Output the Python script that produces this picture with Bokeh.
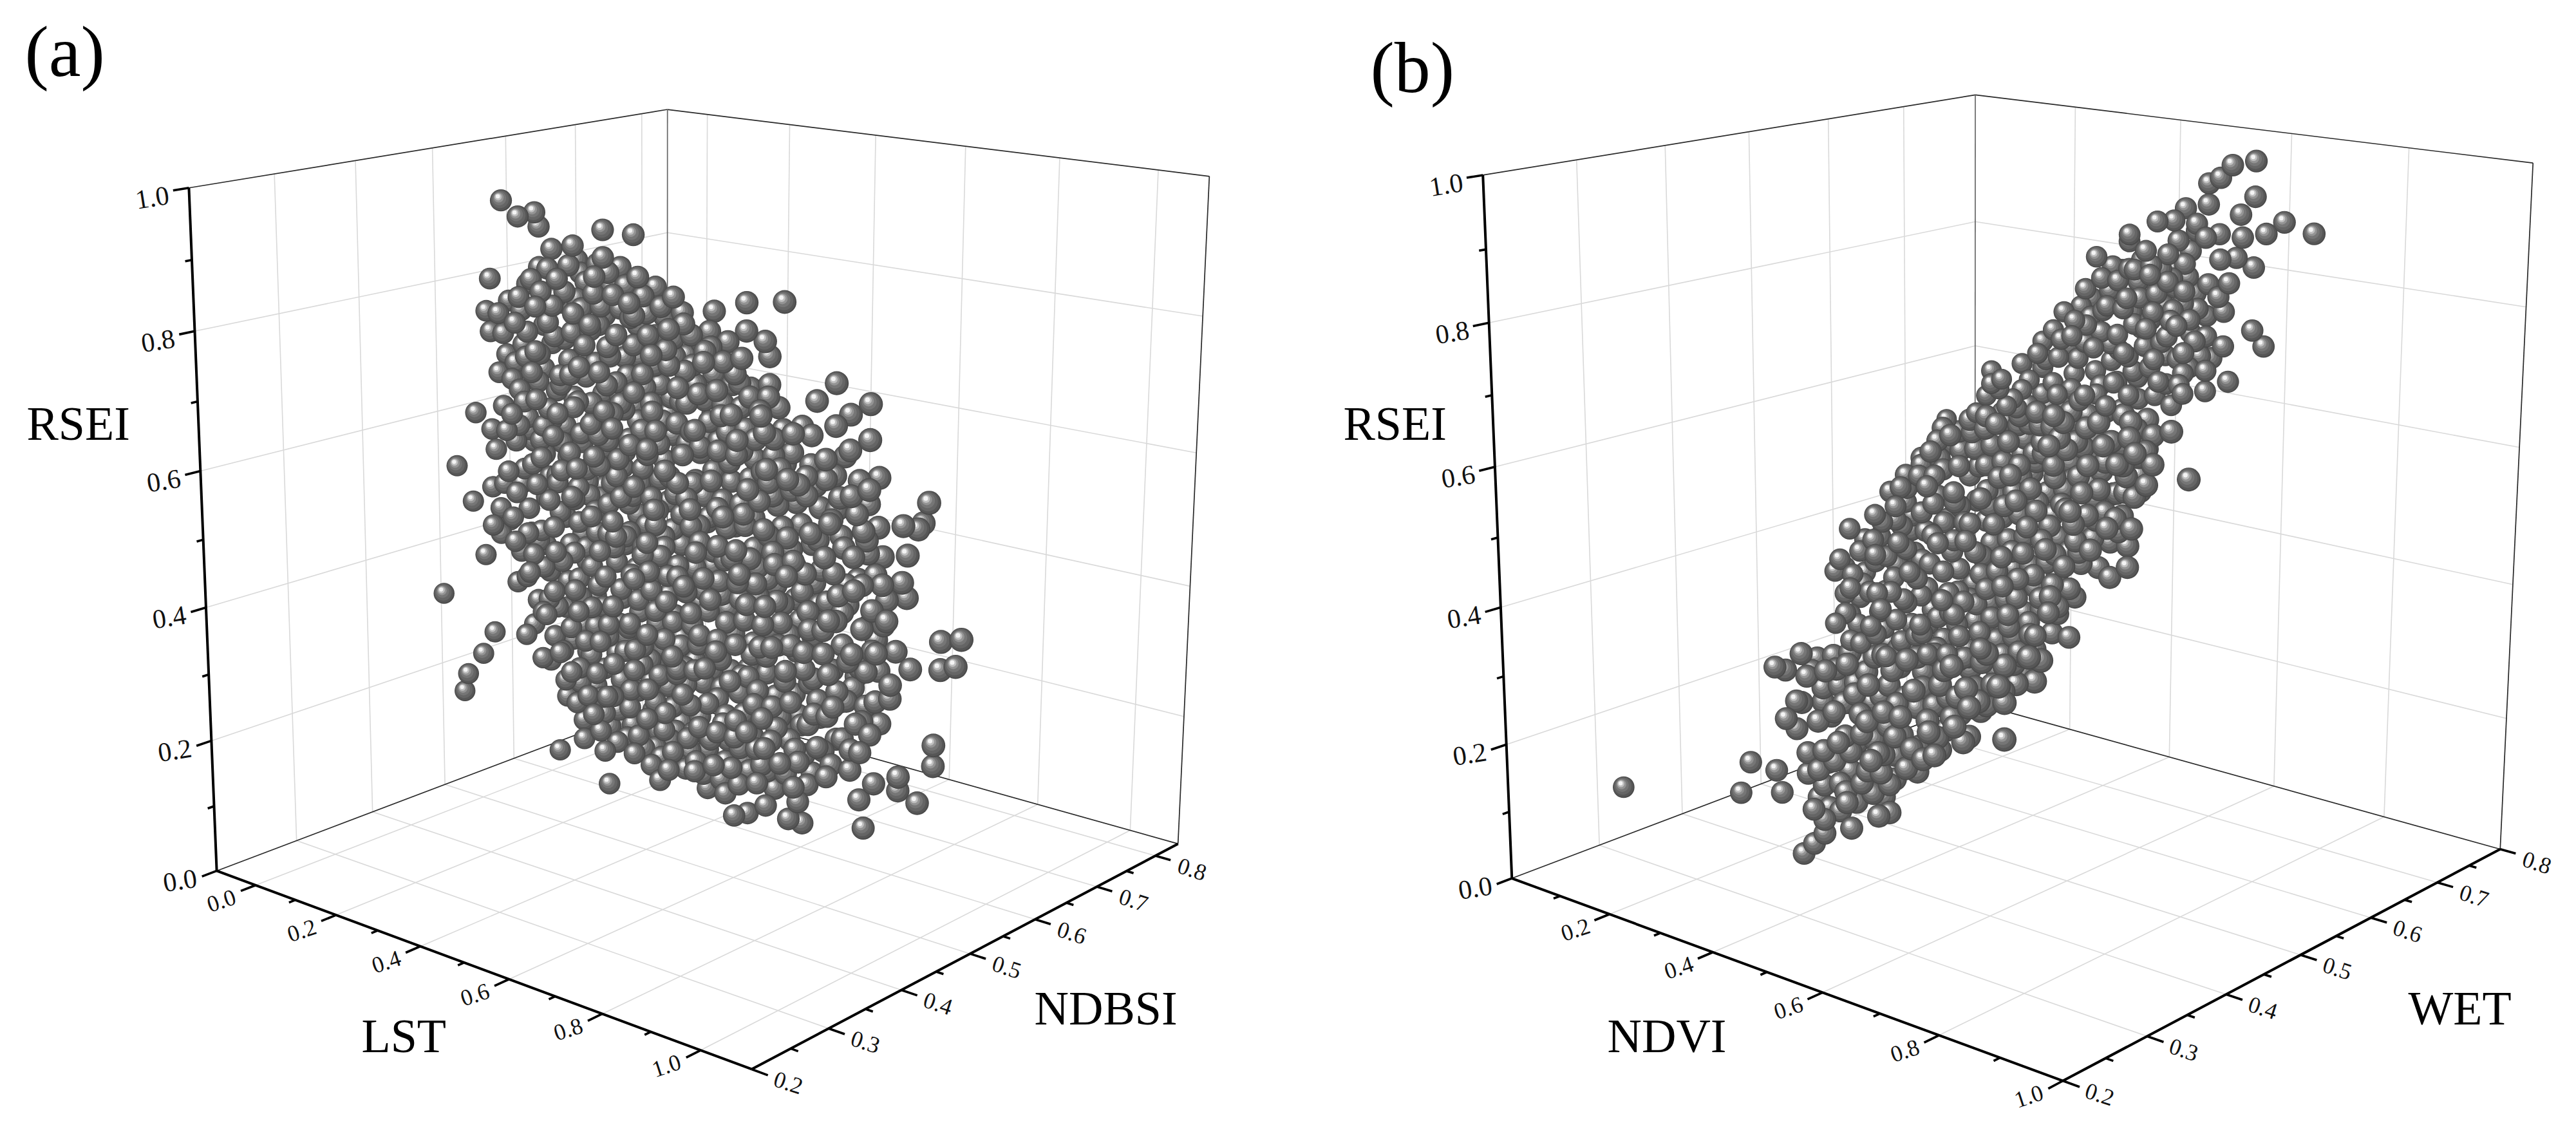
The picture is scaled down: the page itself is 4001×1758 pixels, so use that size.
import numpy as np
from bokeh.plotting import figure
from bokeh.models import ColumnDataSource
from bokeh.core.properties import value
from bokeh.embed import file_html
from bokeh.resources import INLINE

# ---------- data ----------
rsei_ticks = [0.0, 0.2, 0.4, 0.6, 0.8, 1.0]
rsei_labels = ["0.0", "0.2", "0.4", "0.6", "0.8", "1.0"]
lst_ticks = [0.0, 0.2, 0.4, 0.6, 0.8, 1.0]
lst_labels = ["0.0", "0.2", "0.4", "0.6", "0.8", "1.0"]
ndvi_ticks = [0.2, 0.4, 0.6, 0.8, 1.0]
ndvi_labels = ["0.2", "0.4", "0.6", "0.8", "1.0"]
side_ticks = [0.2, 0.3, 0.4, 0.5, 0.6, 0.7, 0.8]
side_labels = ["0.2", "0.3", "0.4", "0.5", "0.6", "0.7", "0.8"]

# (LST, RSEI) pairs; the depth (NDBSI) cannot be read from a single view, so one mid depth is used
a_edge = [(.03,.93),(.07,.91),(.11,.92),(.12,.90),(.15,.87),(.20,.88),(.27,.91),(.34,.91),(.12,.84),(.00,.81),
(-.01,.76),(.00,.73),(-.04,.60),(.00,.58),(-.09,.51),(-.05,.46),(.00,.49),(.00,.43),(-.02,.38),(.02,.46),
(-.13,.30),(.00,.26),(-.03,.22),(-.07,.18),(-.08,.15),(.08,.27),(.12,.24),(.16,.10),(.22,.13),(.27,.12),(.28,.07),
(.52,.82),(.59,.84),(.67,.85),(.59,.80),(.63,.79),(.64,.77),(.78,.75),(.74,.72),(.85,.73),(.81,.71),(.78,.69),
(.85,.68),(.81,.66),(.87,.63),(.85,.61),(.85,.59),(.97,.61),(.96,.58),(.92,.57),(.95,.57),(.93,.53),(.88,.52),
(1.04,.43),(1.00,.42),(1.03,.39),(1.00,.38),(.94,.37),(.90,.32),(.85,.30),(.88,.28),(.99,.27),(.99,.24),
(.92,.21),(.92,.19),(.87,.19),(.96,.18),(.84,.16),(.85,.12),(.84,.23),(.82,.20),(.77,.18),(.73,.16),(.71,.13),
(.69,.10),(.72,.10),(.60,.09),(.57,.08),(.64,.11),(.55,.11),(.51,.11),(.40,.10),(.48,.13),(.92,.49),(.93,.47),(.89,.43),(.87,.38)]
a_core_left = [(.02,.42),(.03,.50),(.01,.55),(.03,.62),(.02,.67),(.04,.70),(.02,.76),(.04,.52),
(.06,.35),(.07,.40),(.05,.45),(.06,.49),(.08,.53),(.06,.57),(.05,.61),(.07,.65),(.06,.69),(.08,.72),(.06,.75),(.07,.79),
(.10,.29),(.11,.33),(.09,.37),(.10,.40),(.12,.44),(.09,.47),(.11,.51),(.10,.54),(.12,.58),(.09,.61),(.11,.64),(.10,.68),(.12,.71),(.09,.74),(.11,.78),(.10,.82),
(.14,.24),(.15,.28),(.13,.31),(.15,.35),(.14,.38),(.13,.42),(.15,.45),(.14,.49),(.16,.52),(.13,.56),(.15,.59),(.14,.63),(.16,.66),(.13,.69),(.15,.73),(.14,.76),(.16,.80),(.14,.84),
(.18,.19),(.19,.23),(.17,.26),(.19,.30),(.18,.33),(.20,.36),(.17,.40),(.19,.43),(.18,.47),(.20,.50),(.17,.54),(.19,.57),(.18,.61),(.20,.64),(.17,.67),(.19,.71),(.18,.74),(.20,.78),(.18,.81),(.19,.85),
(.22,.16),(.23,.20),(.21,.24),(.23,.27),(.22,.31),(.24,.34),(.21,.38),(.23,.41),(.22,.45),(.24,.48),(.21,.52),(.23,.55),(.22,.59),(.24,.62),(.21,.65),(.23,.69),(.22,.72),(.24,.76),(.22,.79),(.23,.83),(.21,.86),
(.26,.15),(.27,.18),(.25,.22),(.27,.25),(.26,.29),(.28,.32),(.25,.36),(.27,.39),(.26,.43),(.28,.46),(.25,.49),(.27,.53),(.26,.56),(.28,.60),(.25,.63),(.27,.67),(.26,.70),(.28,.74),(.26,.77),(.27,.81),(.25,.84),(.27,.87)]
a_core_mid = [(.30,.14),(.31,.17),(.29,.21),(.31,.24),(.30,.28),(.32,.31),(.29,.35),(.31,.38),(.30,.42),(.32,.45),(.29,.48),(.31,.52),(.30,.55),(.32,.59),(.29,.62),(.31,.66),(.30,.69),(.32,.73),(.30,.76),(.31,.80),(.29,.83),(.31,.86),
(.34,.13),(.35,.16),(.33,.20),(.35,.23),(.34,.26),(.36,.30),(.33,.33),(.35,.37),(.34,.40),(.36,.44),(.33,.47),(.35,.50),(.34,.54),(.36,.57),(.33,.61),(.35,.64),(.34,.68),(.36,.71),(.34,.75),(.35,.78),(.33,.81),(.35,.85),
(.38,.12),(.39,.15),(.37,.19),(.39,.22),(.38,.25),(.40,.29),(.37,.32),(.39,.36),(.38,.39),(.40,.43),(.37,.46),(.39,.49),(.38,.53),(.40,.56),(.37,.60),(.39,.63),(.38,.67),(.40,.70),(.38,.74),(.39,.77),(.37,.80),(.39,.84),
(.42,.12),(.43,.15),(.41,.18),(.43,.22),(.42,.25),(.44,.28),(.41,.32),(.43,.35),(.42,.39),(.44,.42),(.41,.46),(.43,.49),(.42,.53),(.44,.56),(.41,.59),(.43,.63),(.42,.66),(.44,.70),(.42,.73),(.43,.77),(.41,.80),(.43,.83),
(.46,.13),(.47,.16),(.45,.20),(.47,.23),(.46,.26),(.48,.30),(.45,.33),(.47,.37),(.46,.40),(.48,.44),(.45,.47),(.47,.50),(.46,.54),(.48,.57),(.45,.61),(.47,.64),(.46,.68),(.48,.71),(.46,.75),(.47,.78),(.45,.81),
(.50,.13),(.51,.17),(.49,.20),(.51,.24),(.50,.27),(.52,.31),(.49,.34),(.51,.38),(.50,.41),(.52,.45),(.49,.48),(.51,.52),(.50,.55),(.52,.59),(.49,.62),(.51,.66),(.50,.69),(.52,.73),(.50,.76),(.51,.79),
(.54,.13),(.55,.16),(.53,.20),(.55,.23),(.54,.27),(.56,.30),(.53,.34),(.55,.37),(.54,.41),(.56,.44),(.53,.48),(.55,.51),(.54,.55),(.56,.58),(.53,.62),(.55,.65),(.54,.69),(.56,.72),(.54,.75),(.55,.78)]
a_core_right = [(.58,.13),(.59,.17),(.57,.20),(.59,.24),(.58,.27),(.60,.31),(.57,.34),(.59,.38),(.58,.41),(.60,.45),(.57,.48),(.59,.52),(.58,.55),(.60,.59),(.57,.62),(.59,.66),(.58,.69),(.60,.72),(.58,.76),
(.62,.14),(.63,.17),(.61,.21),(.63,.24),(.62,.28),(.64,.31),(.61,.35),(.63,.38),(.62,.42),(.64,.45),(.61,.49),(.63,.52),(.62,.56),(.64,.59),(.61,.62),(.63,.66),(.62,.69),(.64,.73),
(.66,.14),(.67,.18),(.65,.21),(.67,.25),(.66,.28),(.68,.32),(.65,.35),(.67,.39),(.66,.42),(.68,.46),(.65,.49),(.67,.53),(.66,.56),(.68,.60),(.65,.63),(.67,.67),(.66,.70),
(.70,.15),(.71,.19),(.69,.22),(.71,.26),(.70,.29),(.72,.33),(.69,.36),(.71,.40),(.70,.43),(.72,.47),(.69,.50),(.71,.54),(.70,.57),(.72,.61),(.69,.64),(.71,.68),
(.74,.18),(.75,.22),(.73,.25),(.75,.29),(.74,.32),(.76,.36),(.73,.39),(.75,.43),(.74,.46),(.76,.50),(.73,.53),(.75,.57),(.74,.60),(.76,.64),(.73,.67),
(.78,.20),(.79,.24),(.77,.27),(.79,.31),(.78,.34),(.80,.38),(.77,.41),(.79,.45),(.78,.48),(.80,.52),(.77,.55),(.79,.59),(.78,.62),(.80,.65),
(.82,.23),(.83,.27),(.81,.30),(.83,.34),(.82,.37),(.84,.41),(.81,.44),(.83,.48),(.82,.51),(.84,.55),(.81,.58),(.83,.62),
(.86,.26),(.87,.31),(.85,.35),(.87,.40),(.86,.44),(.88,.48),(.85,.52),(.87,.56),
(.90,.34),(.91,.39),(.89,.46)]
a_fill_west = [(.043,.445),(.037,.583),(.052,.664),(.031,.731),(.046,.782),
(.083,.362),(.087,.431),(.074,.507),(.092,.592),(.081,.633),(.086,.702),(.076,.771),(.091,.812),
(.122,.313),(.126,.384),(.114,.423),(.133,.494),(.121,.553),(.127,.602),(.116,.668),(.131,.755),(.123,.804),
(.163,.256),(.158,.327),(.171,.366),(.154,.412),(.166,.476),(.159,.531),(.172,.583),(.161,.625),(.168,.684),(.155,.741),(.173,.793),(.162,.827),
(.203,.184),(.212,.218),(.196,.283),(.208,.328),(.215,.352),(.199,.418),(.211,.467),(.194,.503),(.206,.548),(.217,.603),(.201,.656),(.213,.702),(.197,.752),(.209,.803),(.218,.842),
(.243,.173),(.251,.239),(.238,.266),(.249,.313),(.256,.377),(.241,.404),(.253,.458),(.236,.512),(.247,.572),(.258,.606),(.242,.652),(.252,.713),(.239,.768),(.248,.815),(.257,.859),
(.283,.162),(.276,.207),(.292,.261),(.279,.302),(.287,.347),(.273,.393),(.294,.441),(.281,.505),(.289,.538),(.275,.589),(.291,.643),(.278,.683),(.286,.727),(.274,.786),(.293,.818),(.282,.849),
(.323,.152),(.316,.193),(.332,.228),(.319,.286),(.327,.323),(.314,.367),(.334,.406),(.321,.462),(.329,.513),(.315,.566),(.331,.601),(.318,.652),(.326,.704),(.313,.743),(.333,.789),(.322,.835),
(.363,.143),(.356,.184),(.372,.236),(.359,.272),(.367,.315),(.354,.353),(.374,.417),(.361,.453),(.369,.487),(.355,.548),(.371,.592),(.358,.627),(.366,.691),(.353,.735),(.373,.768),(.362,.824)]
a_fill_east = [(.403,.137),(.396,.176),(.412,.207),(.399,.263),(.407,.306),(.394,.342),(.414,.378),(.401,.445),(.409,.476),(.395,.513),(.411,.574),(.398,.612),(.406,.647),(.393,.715),(.413,.752),(.402,.813),
(.443,.133),(.436,.184),(.452,.243),(.439,.272),(.447,.317),(.434,.361),(.454,.408),(.441,.437),(.449,.515),(.435,.543),(.451,.603),(.438,.648),(.446,.681),(.433,.745),(.453,.794),
(.483,.146),(.476,.189),(.492,.217),(.479,.285),(.487,.326),(.474,.353),(.494,.392),(.481,.463),(.489,.504),(.475,.565),(.491,.612),(.478,.643),(.486,.697),(.473,.737),(.493,.772),
(.523,.148),(.516,.186),(.532,.252),(.519,.293),(.527,.322),(.514,.398),(.534,.429),(.521,.471),(.529,.536),(.515,.574),(.531,.635),(.518,.674),(.526,.707),(.513,.768),
(.563,.152),(.556,.193),(.572,.226),(.559,.283),(.567,.357),(.554,.392),(.574,.433),(.561,.467),(.569,.516),(.555,.607),(.571,.641),(.558,.676),(.566,.736),
(.603,.156),(.596,.213),(.612,.258),(.599,.297),(.607,.332),(.594,.404),(.614,.438),(.601,.473),(.609,.534),(.595,.573),(.611,.648),(.598,.707),
(.643,.163),(.636,.196),(.652,.262),(.639,.335),(.647,.376),(.634,.408),(.654,.473),(.641,.513),(.649,.572),(.635,.608),(.651,.654),(.638,.712),
(.683,.167),(.676,.235),(.692,.276),(.679,.305),(.687,.375),(.674,.418),(.694,.484),(.681,.516),(.689,.586),(.675,.622),(.691,.667),
(.723,.204),(.716,.247),(.732,.312),(.719,.355),(.727,.416),(.714,.443),(.734,.515),(.721,.583),(.729,.628),
(.763,.217),(.756,.266),(.772,.332),(.759,.394),(.767,.437),(.754,.481),(.774,.556),(.761,.612),
(.803,.243),(.796,.296),(.812,.358),(.799,.427),(.807,.468),(.794,.536),(.814,.596),
(.843,.276),(.836,.354),(.852,.416),(.839,.473),(.847,.538),(.884,.423),(.876,.356)]
a_fill_more = [(.055,.413),(.068,.595),(.095,.433),(.104,.576),(.109,.713),(.137,.336),(.142,.527),(.148,.614),(.151,.786),(.176,.215),(.184,.372),(.186,.564),(.192,.688),(.225,.285),(.228,.431),(.232,.532),(.226,.736),(.264,.204),(.268,.346),(.262,.512),(.271,.643),(.265,.798),
(.303,.191),(.306,.326),(.298,.458),(.304,.576),(.308,.673),(.336,.175),(.342,.292),(.346,.418),(.338,.526),(.344,.662),(.341,.793),(.384,.206),(.378,.283),(.381,.408),(.386,.512),(.382,.657),(.388,.726),(.424,.168),(.428,.297),(.418,.418),(.422,.567),(.426,.684),(.419,.782),
(.464,.178),(.458,.286),(.462,.424),(.468,.525),(.461,.622),(.456,.726),(.504,.192),(.502,.292),(.498,.427),(.506,.512),(.502,.638),(.497,.744),(.544,.216),(.538,.312),(.546,.462),(.541,.525),(.536,.672),(.582,.186),(.584,.296),(.578,.446),(.586,.536),(.582,.627),(.576,.724),
(.618,.192),(.624,.346),(.618,.463),(.626,.604),(.622,.683),(.662,.232),(.664,.356),(.658,.443),(.664,.613),(.702,.208),(.704,.354),(.698,.478),(.704,.596),(.742,.268),(.738,.382),(.746,.523),(.782,.286),(.786,.412),(.784,.572),(.824,.322),(.822,.462),(.826,.572),(.862,.382),(.866,.492)]

# (NDVI, RSEI) pairs in three depth slices: WET about 0.3, 0.5 and 0.7
b_low_edge = [(.01,.08),(.27,.18),(.32,.18),(.25,.13),(.33,.15),(.32,.33),(.34,.33),(.37,.36),(.38,.33),(.39,.34),(.36,.29),(.37,.29),(.41,.30),(.34,.26),(.36,.25),(.38,.22),(.38,.19),(.41,.18),(.40,.16),(.39,.14),(.41,.13),(.44,.15),(.41,.11),(.39,.09),(.37,.07),(.46,.13),(.51,.16),(.53,.17),(.45,.18),(.52,.19),(.54,.22),(.58,.24),(.61,.27),(.73,.32),(.73,.37),(.69,.35),(.67,.31),(.78,.41),(.72,.39),(.73,.42),(.76,.44),(.79,.44)]
b_low_core = [(.40,.36),(.41,.32),(.40,.27),(.41,.23),(.40,.20),(.42,.15),
(.43,.37),(.44,.33),(.43,.29),(.45,.26),(.43,.22),(.44,.19),
(.46,.38),(.47,.34),(.46,.31),(.48,.27),(.46,.24),(.48,.20),(.47,.17),
(.49,.36),(.50,.32),(.49,.29),(.51,.25),(.49,.22),(.50,.19),
(.52,.39),(.53,.35),(.52,.31),(.54,.28),(.52,.25),(.53,.21),
(.55,.38),(.56,.34),(.55,.31),(.57,.27),(.56,.24),
(.58,.40),(.59,.36),(.58,.33),(.60,.30),(.59,.26),
(.61,.41),(.62,.37),(.61,.34),(.63,.31),(.62,.28),
(.64,.40),(.65,.36),(.64,.33),(.66,.30),
(.67,.42),(.68,.38),(.67,.35),
(.70,.43),(.71,.39),(.70,.36),
(.74,.44),(.75,.40),(.77,.44)]
b_low_fill = [(.415,.345),(.425,.283),(.418,.215),(.435,.352),(.448,.307),(.437,.248),(.452,.165),(.455,.363),(.468,.324),(.472,.256),(.459,.213),(.484,.372),(.493,.342),(.478,.298),(.503,.268),(.488,.207),(.505,.384),(.516,.332),(.497,.236),(.528,.292),(.515,.223),(.536,.372),(.544,.327),(.541,.254),(.562,.392),(.574,.352),(.553,.285),(.583,.276),(.592,.382),(.604,.348),(.598,.316),(.627,.392),(.615,.296),(.634,.356),(.652,.412),(.655,.338),(.672,.404),(.686,.362),(.692,.417),(.718,.412),(.728,.385),(.745,.426),(.76,.417),(.665,.375),(.645,.318)]
b_mid_edge = [(.19,.44),(.22,.43),(.17,.39),(.16,.37),(.24,.41),(.28,.49),(.29,.52),(.30,.54),(.18,.34),(.19,.31),(.16,.29),(.77,.68),(.80,.62),(.74,.67),(.73,.65),(.72,.59),(.71,.64),(.68,.62),(.70,.48),(.67,.46),(.61,.42),(.60,.36),(.54,.33),(.54,.35),(.58,.40),(.37,.62),(.40,.62),(.33,.56)]
b_mid_core = [(.18,.38),(.19,.35),(.18,.31),(.19,.27),(.21,.41),(.22,.38),(.21,.34),(.23,.30),(.21,.27),
(.24,.47),(.25,.44),(.24,.40),(.26,.36),(.25,.33),(.24,.29),(.26,.26),
(.27,.51),(.28,.47),(.27,.43),(.29,.40),(.27,.36),(.28,.32),(.29,.29),(.27,.26),
(.30,.50),(.31,.46),(.30,.43),(.32,.39),(.30,.35),(.31,.32),(.32,.28),
(.33,.57),(.34,.53),(.33,.49),(.35,.46),(.33,.42),(.34,.38),(.35,.35),(.33,.31),(.34,.28),
(.36,.60),(.37,.56),(.36,.52),(.38,.49),(.36,.45),(.37,.41),(.38,.38),(.36,.34),(.37,.31),(.38,.28),
(.39,.60),(.40,.57),(.39,.53),(.41,.49),(.39,.46),(.40,.42),(.41,.39),(.39,.35),(.40,.32),(.41,.29),
(.42,.64),(.43,.60),(.42,.56),(.44,.53),(.42,.49),(.43,.45),(.44,.42),(.42,.38),(.43,.35),(.44,.31),
(.45,.65),(.46,.61),(.45,.58),(.47,.54),(.45,.50),(.46,.47),(.47,.43),(.45,.40),(.46,.36),(.47,.33),(.45,.30),
(.48,.66),(.49,.62),(.48,.59),(.50,.55),(.48,.51),(.49,.48),(.50,.44),(.48,.41),(.49,.37),(.50,.34),(.48,.31),
(.51,.66),(.52,.63),(.51,.59),(.53,.56),(.51,.52),(.52,.49),(.53,.45),(.51,.42),(.52,.38),(.53,.35),(.51,.32),
(.54,.67),(.55,.63),(.54,.60),(.56,.56),(.54,.53),(.55,.49),(.56,.46),(.54,.42),(.55,.39),(.57,.36),
(.57,.67),(.58,.64),(.57,.60),(.59,.57),(.57,.53),(.58,.50),(.59,.46),(.57,.43),(.58,.39),
(.60,.68),(.61,.64),(.60,.61),(.62,.57),(.60,.54),(.61,.50),(.62,.47),(.60,.43),
(.63,.68),(.64,.65),(.63,.61),(.65,.58),(.63,.54),(.64,.51),(.65,.47),
(.66,.69),(.67,.65),(.66,.62),(.68,.58),(.66,.55),(.67,.51),
(.69,.69),(.70,.66),(.69,.62),(.71,.58),(.69,.55),(.70,.51),
(.73,.69),(.74,.63),(.73,.60)]
b_mid_fill = [(.195,.372),(.205,.298),(.215,.362),(.226,.413),(.232,.274),(.243,.353),(.236,.432),(.254,.462),(.262,.412),(.256,.302),(.268,.283),(.285,.437),(.276,.383),(.294,.354),(.283,.278),(.302,.521),(.312,.482),(.306,.397),(.318,.304),(.325,.543),(.337,.464),(.328,.366),(.342,.326),(.347,.582),(.352,.507),(.345,.417),(.358,.294),(.364,.575),(.372,.483),(.368,.367),(.377,.288),(.384,.612),(.392,.516),(.387,.443),(.396,.337),(.403,.594),(.412,.463),(.408,.373),(.415,.304),(.424,.623),(.433,.526),(.427,.404),(.438,.334),(.448,.632),(.456,.522),(.443,.447),(.457,.383),(.452,.316),(.468,.642),(.473,.566),(.464,.497),(.476,.416),(.468,.351),(.487,.648),(.494,.573),(.483,.527),(.497,.464),(.486,.393),(.503,.326),(.508,.647),(.516,.608),(.504,.538),(.517,.465),(.506,.398),(.524,.338),(.527,.652),(.533,.583),(.524,.504),(.536,.437),(.528,.367),(.546,.653),(.552,.614),(.543,.543),(.557,.478),(.548,.406),(.567,.654),(.573,.583),(.564,.513),(.578,.446),(.566,.412),(.587,.663),(.593,.626),(.585,.548),(.598,.483),(.588,.423),(.607,.667),(.614,.592),(.606,.523),(.616,.485),(.627,.662),(.634,.587),(.626,.526),(.636,.492),(.648,.673),(.654,.606),(.645,.536),(.668,.634),(.674,.578),(.664,.528),(.688,.648),(.694,.584),(.684,.527),(.712,.674),(.718,.612),(.706,.535),(.728,.646)]
b_mid_more = [(.228,.352),(.248,.326),(.292,.463),(.316,.428),(.326,.322),(.354,.548),(.383,.352),(.402,.512),(.432,.374),(.437,.576),(.462,.592),(.478,.452),(.492,.353),(.513,.574),(.523,.428),(.536,.612),(.542,.466),(.562,.626),(.574,.474),(.592,.542),(.604,.586),(.622,.634),(.643,.566),(.656,.642),(.678,.544),(.696,.606),(.716,.636),(.702,.682),(.636,.628),(.563,.388),(.508,.426),(.452,.544),(.398,.386),(.348,.462),(.282,.404)]
b_high_edge = [(.67,.99),(.63,.98),(.61,.96),(.59,.95),(.67,.94),(.55,.91),(.59,.92),(.50,.885),(.53,.89),(.57,.89),(.72,.91),(.69,.89),(.77,.90),(.65,.88),(.61,.88),(.45,.86),(.45,.85),(.57,.88),(.56,.85),(.48,.84),(.52,.84),(.64,.85),(.67,.84),(.55,.83),(.53,.82),(.39,.82),(.45,.81),(.42,.81),(.61,.79),(.62,.77),(.59,.76),(.57,.79),(.67,.75),(.69,.73),(.62,.72),(.59,.73),(.63,.67),(.59,.65),(.55,.64),(.55,.70),(.55,.67),(.33,.73),(.29,.68),(.19,.62),(.19,.60),(.18,.58),(.16,.55),(.10,.53),(.25,.64),(.29,.64)]
b_high_core = [(.21,.61),(.22,.57),(.25,.60),(.24,.57),(.28,.66),(.29,.60),(.28,.57),
(.31,.70),(.32,.66),(.31,.62),(.33,.59),(.34,.68),(.35,.64),(.36,.60),(.35,.72),
(.37,.77),(.38,.73),(.37,.69),(.39,.65),(.37,.61),(.40,.79),(.41,.75),(.40,.71),(.42,.67),(.40,.63),(.41,.60),
(.43,.79),(.44,.75),(.43,.71),(.45,.68),(.43,.64),(.44,.60),
(.46,.81),(.47,.77),(.46,.73),(.48,.70),(.46,.66),(.47,.62),
(.49,.82),(.50,.78),(.49,.74),(.51,.71),(.49,.67),(.50,.63),
(.52,.80),(.53,.76),(.52,.72),(.54,.69),(.52,.65),(.53,.62),
(.55,.79),(.56,.75),(.57,.72),(.56,.68),(.58,.70),(.60,.70),(.59,.68)]
b_high_fill = [(.205,.594),(.232,.583),(.264,.617),(.262,.578),(.296,.653),(.302,.584),(.325,.688),(.318,.603),(.345,.616),(.362,.743),(.357,.664),(.382,.758),(.386,.684),(.392,.615),(.415,.774),(.418,.695),(.424,.637),(.437,.807),(.446,.766),(.442,.684),(.452,.623),(.467,.794),(.474,.726),(.468,.652),(.488,.806),(.494,.752),(.497,.683),(.508,.817),(.514,.765),(.518,.692),(.534,.793),(.537,.738),(.543,.652),(.548,.772),(.562,.732),(.574,.768),(.578,.705)]
b_high_more = [(.345,.696),(.372,.716),(.403,.742),(.433,.688),(.456,.748),(.478,.782),(.482,.726),(.526,.744),(.506,.651),(.528,.806),(.556,.812),(.592,.806),(.612,.844),(.586,.872),(.628,.812),(.646,.912),(.538,.862),(.473,.826)]

# ---------- drawing helpers ----------
def fit_camera(corners_cube, corners_screen):
    rows = []
    for (u, v, w), (x, y) in zip(corners_cube, corners_screen):
        x, y = x / 1000.0, y / 1000.0
        rows.append([u, v, w, 1, 0, 0, 0, 0, -x * u, -x * v, -x * w, -x])
        rows.append([0, 0, 0, 0, u, v, w, 1, -y * u, -y * v, -y * w, -y])
    m = np.linalg.svd(np.array(rows, float))[2][-1].reshape(3, 4)
    return m

def project(m, u, v, w):
    q = m @ np.vstack([np.ravel(u), np.ravel(v), np.ravel(w), np.ones(np.size(u))])
    return q[0] / q[2] * 1000.0, q[1] / q[2] * 1000.0, q[2]

CUBE = [(0,0,0),(1,0,0),(0,1,0),(1,1,0),(0,0,1),(0,1,1),(1,1,1)]
LAYERS = [(1.00, 0.00, 0.00, "#4a4a4a"), (0.93, -0.03, -0.03, "#565656"), (0.80, -0.08, -0.10, "#656565"),
          (0.62, -0.14, -0.18, "#767676"), (0.45, -0.20, -0.26, "#949494"), (0.32, -0.25, -0.32, "#c0c0c0"),
          (0.19, -0.28, -0.36, "#f4f4f4")]
SERIF = value("Liberation Serif")

p = figure(width=3985, height=1742, x_range=(0, 3985), y_range=(1742, 0), output_backend="svg",
           toolbar_location=None, min_border=0, x_axis_type=None, y_axis_type=None, outline_line_color=None)
p.grid.visible = False
p.background_fill_color = "white"
p.border_fill_color = "white"

def seg(m, a, b):
    x, y, _ = project(m, [a[0], b[0]], [a[1], b[1]], [a[2], b[2]])
    return list(x), list(y)

def lines(segs, color, width):
    p.multi_line([s[0] for s in segs], [s[1] for s in segs], line_color=color, line_width=width)

def labels(xs, ys, texts, size, angle):
    p.text(xs, ys, text=texts, text_font=SERIF, text_font_size=value(size), text_color="#111111",
           text_align="center", text_baseline="middle", angle=np.radians(angle))

def panel(screen, to_u, to_v, u_ticks, u_minor, u_labels, v_ticks, v_minor, v_labels, u_grid, v_grid, pts):
    m = fit_camera(CUBE, screen)
    grid = []
    for t in rsei_ticks[1:-1]:
        grid += [seg(m, (0,0,t), (0,1,t)), seg(m, (0,1,t), (1,1,t))]
    for t in v_grid:
        v = to_v(t)
        grid += [seg(m, (0,v,0), (0,v,1)), seg(m, (0,v,0), (1,v,0))]
    for t in u_grid:
        u = to_u(t)
        grid += [seg(m, (u,1,0), (u,1,1)), seg(m, (u,0,0), (u,1,0))]
    lines(grid, "#d9d9d9", 1.6)
    lines([seg(m,(0,0,1),(0,1,1)), seg(m,(0,1,1),(1,1,1)), seg(m,(1,1,1),(1,1,0)),
           seg(m,(0,0,0),(0,1,0)), seg(m,(0,1,0),(1,1,0))], "#2a2a2a", 1.7)
    lines([seg(m,(0,1,0),(0,1,1))], "#666666", 1.7)
    lines([seg(m,(0,0,0),(0,0,1)), seg(m,(0,0,0),(1,0,0)), seg(m,(1,0,0),(1,1,0))], "#000000", 4)
    ticks = []
    for t in [.1,.3,.5,.7,.9]:
        ticks.append(seg(m,(0,0,t),(0,-.012,t)))
    for t in rsei_ticks:
        ticks.append(seg(m,(0,0,t),(0,-.028,t)))
    for t in u_minor:
        ticks.append(seg(m,(to_u(t),0,0),(to_u(t),-.012,0)))
    for t in u_ticks:
        ticks.append(seg(m,(to_u(t),0,0),(to_u(t),-.028,0)))
    for t in v_minor:
        ticks.append(seg(m,(1,to_v(t),0),(1.012,to_v(t),0)))
    for t in v_ticks:
        ticks.append(seg(m,(1,to_v(t),0),(1.026,to_v(t),0)))
    lines(ticks, "#000000", 3.6)

    # spheres: every point is a stack of offset discs, so that it looks lit from upper left
    uu = np.concatenate([to_u(np.array([q[0] for q in g])) for g, d in pts])
    vv = np.concatenate([np.full(len(g), to_v(d)) for g, d in pts])
    ww = np.concatenate([np.array([q[1] for q in g]) for g, d in pts])
    sx, sy, depth = project(m, uu, vv, ww)
    rad = 17.5 * np.median(depth) / depth
    n = len(sx)
    stride = 137 if n % 137 else 139
    order = (np.arange(n) * stride) % n
    cx, cy, cr, cc = [], [], [], []
    for i in order:
        for fr, ox, oy, col in LAYERS:
            cx.append(sx[i] + ox * rad[i]); cy.append(sy[i] + oy * rad[i])
            cr.append(fr * rad[i]); cc.append(col)
    p.circle(x="x", y="y", radius="r", fill_color="c", line_color=None,
             source=ColumnDataSource(dict(x=cx, y=cy, r=cr, c=cc)))

    x, y, _ = project(m, np.zeros(len(rsei_ticks)), np.zeros(len(rsei_ticks)), rsei_ticks)
    labels(x - 57, y + 15, rsei_labels, "42px", 9)
    x, y, _ = project(m, [to_u(t) for t in u_ticks], np.zeros(len(u_ticks)), np.zeros(len(u_ticks)))
    labels(x - 53, y + 24, u_labels, "36px", 18)
    x, y, _ = project(m, np.ones(len(v_ticks)), [to_v(t) for t in v_ticks], np.zeros(len(v_ticks)))
    labels(x + 57, y + 21, v_labels, "36px", -18)

def title(x, y, t, size="74px"):
    p.text([x], [y], text=[t], text_font=SERIF, text_font_size=value(size), text_color="#000000",
           text_align="left", text_baseline="alphabetic")

panel([(336,1353),(1167,1659),(1036,1086),(1829,1311),(293,291),(1036,170),(1878,273)],
      lambda t: (t + 0.1) / 1.2, lambda t: (t - 0.2) / 0.64,
      lst_ticks, [.1,.3,.5,.7,.9], lst_labels, side_ticks, [.25,.35,.45,.55,.65,.75], side_labels,
      lst_ticks, side_ticks[1:],
      [(a_edge, 0.52), (a_core_left, 0.52), (a_core_mid, 0.52), (a_core_right, 0.52), (a_fill_west, 0.52),
       (a_fill_east, 0.52), (a_fill_more, 0.52)])
panel([(2348,1364),(3203,1678),(3067,1091),(3883,1318),(2303,271),(3067,147),(3934,253)],
      lambda t: t * 1.0, lambda t: (t - 0.2) / 0.6,
      ndvi_ticks, [.1,.3,.5,.7,.9], ndvi_labels, side_ticks, [.25,.35,.45,.55,.65,.75], side_labels,
      ndvi_ticks[:-1], side_ticks[1:-1],
      [(b_low_edge, 0.325), (b_low_core, 0.325), (b_low_fill, 0.325), (b_mid_edge, 0.5), (b_mid_core, 0.5),
       (b_mid_fill, 0.5), (b_mid_more, 0.5), (b_high_edge, 0.69), (b_high_core, 0.69), (b_high_fill, 0.69), (b_high_more, 0.69)])

title(41, 657, "RSEI"); title(561, 1608, "LST"); title(1606, 1565, "NDBSI")
title(2086, 657, "RSEI"); title(2496, 1608, "NDVI"); title(3740, 1565, "WET")
title(38, 79, "(a)", "112px"); title(2128, 104, "(b)", "112px")

open("out.html", "w").write(file_html(p, INLINE))
